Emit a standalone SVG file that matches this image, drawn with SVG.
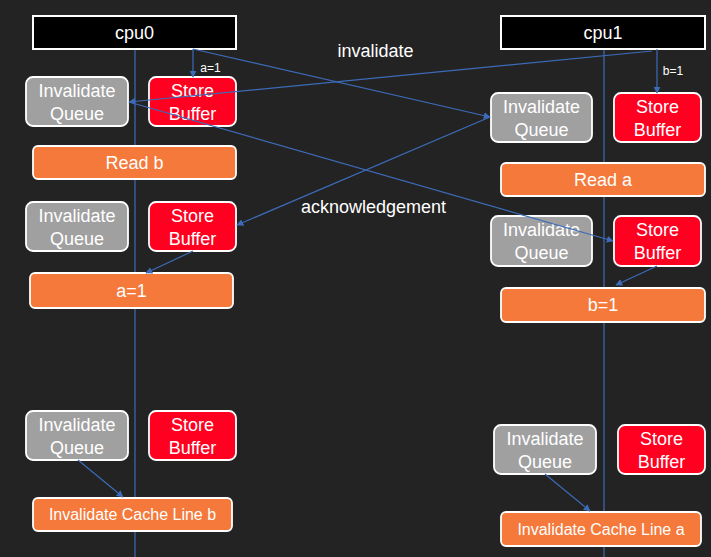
<svg xmlns="http://www.w3.org/2000/svg" width="711" height="557" viewBox="0 0 711 557">
<defs>
<style>
.bg{fill:#232323}
.cpu{fill:#000;stroke:#fff;stroke-width:2}
.iq{fill:#a0a0a0;stroke:#fff;stroke-width:1.8}
.sb{fill:#ff0020;stroke:#fff;stroke-width:1.8}
.op{fill:#f4793b;stroke:#fff;stroke-width:1.8}
.life{stroke:#3c6bb8;stroke-width:1.2;fill:none}
.con{stroke:#3c6bb8;stroke-width:1.2;fill:none;marker-end:url(#ah)}
text{font-family:"Liberation Sans",Arial,sans-serif;fill:#fff;text-anchor:middle}
.t{font-size:18px}
.m{font-size:16px}
.s{font-size:12px}
</style>
<marker id="ah" viewBox="0 0 10 10" refX="9" refY="5" markerWidth="7" markerHeight="7" markerUnits="userSpaceOnUse" orient="auto">
<path d="M0,0 L10,5 L0,10 z" fill="#3c6bb8"/>
</marker>
</defs>
<rect class="bg" x="0" y="0" width="711" height="557"/>
<g id="lifelines">
<line class="life" x1="135" y1="49" x2="135" y2="557"/>
<line class="life" x1="604" y1="49" x2="604" y2="557"/>
</g>
<g id="cpu0"><rect class="cpu" x="33" y="16" width="203" height="33"/><text class="t" x="134.5" y="39">cpu0</text></g>
<g id="cpu1"><rect class="cpu" x="501" y="16" width="204" height="33"/><text class="t" x="603" y="39">cpu1</text></g>

<g id="cpu0-iq1"><rect class="iq" x="26" y="77" width="102" height="49" rx="7"/><text class="t" x="77" y="97">Invalidate</text><text class="t" x="77" y="120">Queue</text></g>
<g id="cpu0-sb1"><rect class="sb" x="149" y="77" width="87" height="49" rx="7"/><text class="t" x="192.5" y="97">Store</text><text class="t" x="192.5" y="120">Buffer</text></g>
<g id="cpu0-readb"><rect class="op" x="33" y="146" width="203" height="33" rx="5"/><text class="t" x="134.5" y="169">Read b</text></g>

<g id="cpu0-iq2"><rect class="iq" x="26" y="202" width="102" height="49" rx="7"/><text class="t" x="77" y="222">Invalidate</text><text class="t" x="77" y="245">Queue</text></g>
<g id="cpu0-sb2"><rect class="sb" x="149" y="202" width="87" height="49" rx="7"/><text class="t" x="192.5" y="222">Store</text><text class="t" x="192.5" y="245">Buffer</text></g>
<g id="cpu0-a1"><rect class="op" x="30" y="273" width="203" height="35" rx="5"/><text class="t" x="131.5" y="297">a=1</text></g>

<g id="cpu0-iq3"><rect class="iq" x="26" y="411" width="102" height="49" rx="7"/><text class="t" x="77" y="431">Invalidate</text><text class="t" x="77" y="454">Queue</text></g>
<g id="cpu0-sb3"><rect class="sb" x="149" y="411" width="87" height="49" rx="7"/><text class="t" x="192.5" y="431">Store</text><text class="t" x="192.5" y="454">Buffer</text></g>
<g id="cpu0-icl"><rect class="op" x="33" y="498" width="199" height="33" rx="5"/><text class="m" x="132.5" y="520">Invalidate Cache Line b</text></g>

<g id="cpu1-iq1"><rect class="iq" x="491" y="93" width="101" height="49" rx="7"/><text class="t" x="541.5" y="113">Invalidate</text><text class="t" x="541.5" y="136">Queue</text></g>
<g id="cpu1-sb1"><rect class="sb" x="614" y="93" width="87" height="49" rx="7"/><text class="t" x="657.5" y="113">Store</text><text class="t" x="657.5" y="136">Buffer</text></g>
<g id="cpu1-reada"><rect class="op" x="501" y="163" width="204" height="33" rx="5"/><text class="t" x="603" y="186">Read a</text></g>

<g id="cpu1-iq2"><rect class="iq" x="491" y="216" width="101" height="50" rx="7"/><text class="t" x="541.5" y="236">Invalidate</text><text class="t" x="541.5" y="259">Queue</text></g>
<g id="cpu1-sb2"><rect class="sb" x="614" y="216" width="87" height="50" rx="7"/><text class="t" x="657.5" y="236">Store</text><text class="t" x="657.5" y="259">Buffer</text></g>
<g id="cpu1-b1"><rect class="op" x="501" y="288" width="204" height="34" rx="5"/><text class="t" x="603" y="311">b=1</text></g>

<g id="cpu1-iq3"><rect class="iq" x="494" y="425" width="102" height="49" rx="7"/><text class="t" x="545" y="445">Invalidate</text><text class="t" x="545" y="468">Queue</text></g>
<g id="cpu1-sb3"><rect class="sb" x="618" y="425" width="87" height="49" rx="7"/><text class="t" x="661.5" y="445">Store</text><text class="t" x="661.5" y="468">Buffer</text></g>
<g id="cpu1-icl"><rect class="op" x="501" y="512" width="200" height="34" rx="5"/><text class="m" x="601" y="535">Invalidate Cache Line a</text></g>

<g id="connectors">
<line class="con" x1="193" y1="49" x2="193" y2="77"/>
<line class="con" x1="657" y1="49" x2="657" y2="93"/>
<line class="con" x1="193" y1="49" x2="490" y2="117"/>
<line class="con" x1="652" y1="51" x2="129" y2="102"/>
<line class="con" x1="129" y1="102" x2="613" y2="241"/>
<line class="con" x1="490" y1="117" x2="237" y2="225"/>
<line class="con" x1="193" y1="251" x2="146" y2="273"/>
<line class="con" x1="657" y1="266" x2="616" y2="285"/>
<line class="con" x1="78" y1="460" x2="123" y2="497"/>
<line class="con" x1="545" y1="474" x2="590" y2="511"/>
<text class="s" x="210.5" y="72">a=1</text>
<text class="s" x="673" y="75">b=1</text>
<text class="t" x="375.5" y="57">invalidate</text>
<text class="t" x="373.5" y="213">acknowledgement</text>
</g>
</svg>
